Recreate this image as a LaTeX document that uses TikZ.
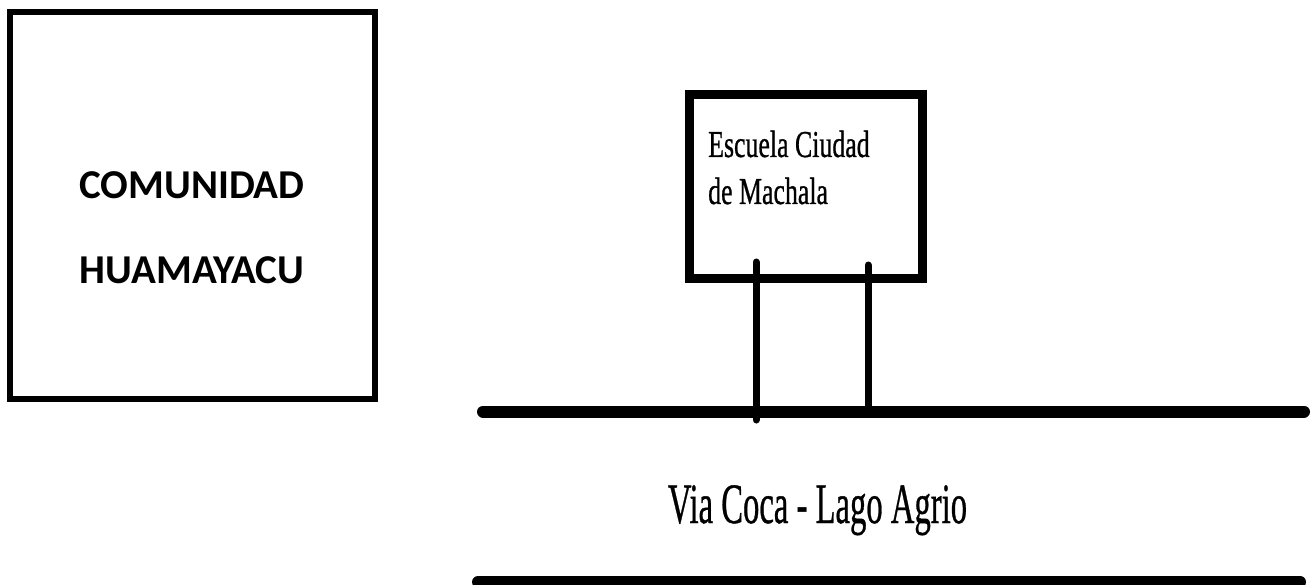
\documentclass[tikz,border=0pt]{standalone}
\usepackage{fontspec}
\newfontfamily\carlito{Carlito}
\newfontfamily\condserif[FakeBold=0.8]{Liberation Serif}
\begin{document}
\begin{tikzpicture}[x=1pt,y=-1pt,
  frame/.style={draw=black,fill=white,rectangle,inner sep=0pt,outer sep=0pt},
  bigtitle/.style={inner sep=0pt,anchor=base,font=\carlito\bfseries\fontsize{41}{45}\selectfont},
  schooltext/.style={inner sep=0pt,anchor=base west,font=\condserif\fontsize{38}{40}\selectfont},
  roadtext/.style={inner sep=0pt,anchor=base,font=\condserif\fontsize{57}{60}\selectfont},
  road/.style={line width=12pt,line cap=round},
  post/.style={line width=7pt,line cap=round}]
\useasboundingbox (0,0) rectangle (1316,585);
% left community box
\node[frame,line width=6pt,minimum width=365pt,minimum height=387pt] (comm) at (192.5,205.5) {};
\node[bigtitle] (t1) at (192,199) {COMUNIDAD};
\node[bigtitle] (t2) at (192,283) {HUAMAYACU};
% school
\coordinate (p1top) at (756,262);
\coordinate (p1bot) at (756,420);
\coordinate (p2top) at (868,265);
\coordinate (p2bot) at (868,408);
\draw[post] (p1top) -- (p1bot);
\draw[post] (p2top) -- (p2bot);
\node[frame,fill=none,line width=9pt,minimum width=233pt,minimum height=183pt] (school) at (805.5,186.5) {};
\node[schooltext] (s1) at (708,157) {\scalebox{0.68}[1]{Escuela Ciudad}};
\node[schooltext] (s2) at (708,204) {\scalebox{0.68}[1]{de Machala}};
% road
\coordinate (r1a) at (483,411.5);
\coordinate (r1b) at (1304,411.5);
\coordinate (r2a) at (478,582);
\coordinate (r2b) at (1300,582);
\draw[road] (r1a) -- (r1b);
\draw[road] (r2a) -- (r2b);
\node[roadtext] (via) at (817.5,523) {\scalebox{0.573}[1]{Via Coca - Lago Agrio}};
\end{tikzpicture}
\end{document}
